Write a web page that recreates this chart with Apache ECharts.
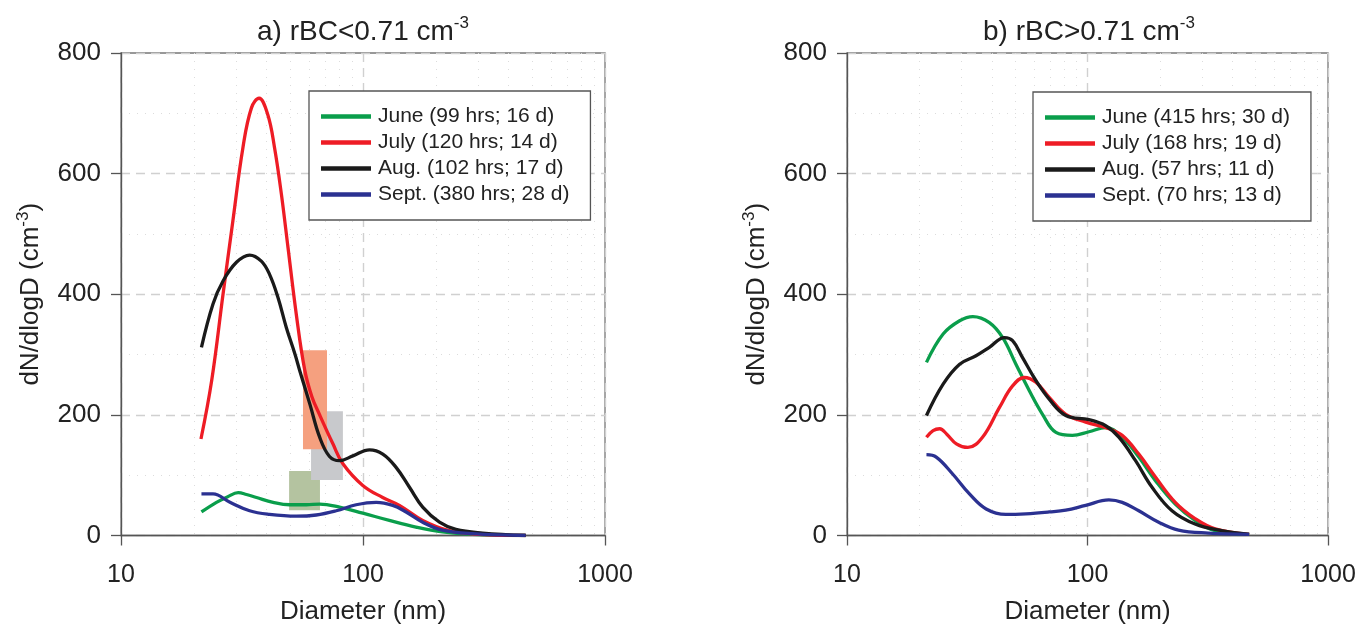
<!DOCTYPE html>
<html>
<head>
<meta charset="utf-8">
<script src="https://cdn.jsdelivr.net/npm/echarts@6/dist/echarts.min.js"></script>
<style>
  html, body { margin: 0; padding: 0; background: #fff; }
  #chart { width: 1357px; height: 624px; }
</style>
</head>
<body>
<div id="chart"></div>
<script>
// rBC size distributions: [diameter (nm), dN/dlogD (cm^-3)]
// a) rBC < 0.71 cm-3
const juneLow = [[21.5,39],[24.8,55],[27.5,64],[30.5,71],[33,68],[36.3,63],[42.5,55],[49.8,51],[58.3,51],[66.2,52],[80,47],[99.8,37],[128.5,25],[165.5,14],[213,6],[284,2],[470,0]];
const julyLow = [[21.4,160],[23.7,257],[26.4,400],[29,522],[31.9,643],[34.6,709],[37.2,725],[40.4,698],[43.1,643],[46,566],[49,477],[53,367],[57.4,275],[61.5,230],[66.2,200],[75.1,152],[82.6,119],[99.8,83],[120.6,63],[141.4,50],[176.5,25],[227,8],[302,2],[470,0]];
const augLow = [[21.5,312],[24,384],[26.4,422],[30,453],[34,465],[38,455],[41.1,433],[44.5,395],[48.2,345],[52.4,300],[54.9,272],[60.4,217],[66.2,163],[72.7,131],[80,124],[90.8,132],[106.4,142],[120.7,135],[137,113],[155.6,80],[176.5,47],[207,22],[242,10],[312,4],[470,0]];
const septLow = [[21.5,69],[24,69],[28.2,55],[34,41],[41.1,35],[53,32],[64.1,34],[77.5,41],[93.7,51],[113.4,55],[132.7,50],[150.7,39],[176.5,22],[213,9],[284,3],[470,0]];

// b) rBC > 0.71 cm-3
const juneHigh = [[21.4,287],[25.1,334],[29.4,356],[33.4,363],[39.1,353],[44.4,328],[50.4,284],[57.3,240],[65,201],[73.9,171],[86.5,166],[101.4,172],[119,179],[139.4,163],[163.4,130],[191.6,91],[231.7,52],[280,25],[339.5,8],[470,2]];
const julyHigh = [[21.4,163],[22.8,174],[24.3,177],[26,168],[28.5,152],[31.8,146],[36.6,163],[43,212],[48.8,248],[54.6,262],[61,254],[69.3,229],[81.2,201],[98.3,188],[122.7,177],[139.4,166],[163.4,135],[191.6,97],[231.7,55],[280,28],[339.5,11],[470,2]];
const augHigh = [[21.4,199],[25.1,251],[29.4,284],[34.4,298],[39.1,312],[45.1,328],[48.8,323],[53.7,295],[61,257],[69.3,226],[81.2,199],[101.4,192],[119,182],[135,163],[158.4,124],[185.5,80],[224.5,41],[280,19],[361,8],[470,2]];
const septHigh = [[21.4,134],[23.5,130],[27.5,102],[32.3,69],[37.9,44],[45.8,35],[55.4,36],[69.3,39],[81.2,42],[98.3,50],[122.7,59],[139.4,55],[163.4,41],[197.7,22],[239,9],[318,4],[470,2]];

// Shaded ranges in panel a: [dMin, dMax, nMin, nMax]
const boxOlive = [49.5, 66.4, 42, 107];
const boxGray = [61, 82.6, 92, 206];
const boxSalmon = [56.5, 71, 143, 307];

const namesLow = ['June (99 hrs; 16 d)', 'July (120 hrs; 14 d)', 'Aug. (102 hrs; 17 d)', 'Sept. (380 hrs; 28 d)'];
const namesHigh = ['June (415 hrs; 30 d)', 'July (168 hrs; 19 d)', 'Aug. (57 hrs; 11 d)', 'Sept. (70 hrs; 13 d)'];
const titles = ['a) rBC<0.71 cm', 'b) rBC>0.71 cm'];
const xName = 'Diameter (nm)';
const yName = 'dN/dlogD (cm';

const colors = ['#0a9e4b', '#ee1c25', '#1a1a1a', '#2b3191'];
const FONT = "'Liberation Sans', Arial, sans-serif";
const TXT = '#222';

const chart = echarts.init(document.getElementById('chart'));

function curve(name, data, color, idx) {
  return {
    name, type: 'line', xAxisIndex: idx, yAxisIndex: idx, data,
    smooth: 0.4, symbol: 'none', z: 5,
    lineStyle: { color, width: 3.3 }, itemStyle: { color }
  };
}

function box(b, color) {
  return [{ xAxis: b[0], yAxis: b[3], itemStyle: { color, opacity: 1 } }, { xAxis: b[1], yAxis: b[2] }];
}

const grids = [
  { left: 121, right: 752, top: 53, bottom: 88.5 },
  { left: 847, right: 29, top: 53, bottom: 88.5 }
];

const xAxes = grids.map((g, i) => ({
  type: 'log', logBase: 10, min: 10, max: 1000, gridIndex: i,
  name: xName, nameLocation: 'middle', nameGap: 63,
  nameTextStyle: { fontSize: 26, color: TXT, fontFamily: FONT },
  axisLine: { show: true, lineStyle: { color: '#555', width: 1.3 } },
  axisTick: { show: true, length: 10, lineStyle: { color: '#555', width: 1.3 } },
  axisLabel: { fontSize: 25, color: TXT, fontFamily: FONT, margin: 27, formatter: v => String(Math.round(v)) },
  splitLine: { show: true, lineStyle: { color: '#d0d0d0', type: [9, 6], width: 1.4 } },
  minorTick: { show: false, splitNumber: 9 },
  minorSplitLine: { show: true, lineStyle: { color: '#dcdcdc', type: [1, 7], width: 1 } }
}));

const yAxes = grids.map((g, i) => ({
  type: 'value', min: 0, max: 800, interval: 200, gridIndex: i,
  name: '{m|' + yName + '}{s|-3}{m|)}', nameLocation: 'middle', nameGap: 74, nameRotate: 90,
  nameTextStyle: {
    color: TXT, fontFamily: FONT,
    rich: {
      m: { fontSize: 26, color: TXT, fontFamily: FONT, lineHeight: 32 },
      s: { fontSize: 17, color: TXT, fontFamily: FONT, verticalAlign: 'top', lineHeight: 20 }
    }
  },
  axisLine: { show: true, lineStyle: { color: '#555', width: 1.3 } },
  axisTick: { show: true, length: 10, lineStyle: { color: '#555', width: 1.3 } },
  axisLabel: { fontSize: 26, color: TXT, fontFamily: FONT, margin: 20 },
  splitLine: { show: true, lineStyle: { color: '#d0d0d0', type: [9, 6], width: 1.4 } },
  minorTick: { show: false, splitNumber: 2 },
  minorSplitLine: { show: true, lineStyle: { color: '#dcdcdc', type: [1, 7], width: 1 } }
}));

const legendBase = {
  orient: 'vertical', itemWidth: 50, itemHeight: 4.5, itemGap: 5, icon: 'rect',
  padding: [15, 21, 15, 12], borderColor: '#555', borderWidth: 1.3, backgroundColor: '#fff',
  textStyle: { fontSize: 21, color: TXT, fontFamily: FONT, padding: [0, 0, 0, 2] },
  z: 10
};

const option = {
  animation: false,
  backgroundColor: '#fff',
  title: titles.map((t, i) => ({
    text: '{m|' + t + '}{s|-3}', left: i === 0 ? 358 : 1084, top: 10, textAlign: 'center',
    textStyle: {
      fontWeight: 'normal',
      rich: {
        m: { fontSize: 28, fontWeight: 'normal', color: TXT, fontFamily: FONT, lineHeight: 35 },
        s: { fontSize: 17, fontWeight: 'normal', color: TXT, fontFamily: FONT, verticalAlign: 'top', lineHeight: 20 }
      }
    }
  })),
  grid: grids.map(g => Object.assign({
    show: true, borderColor: '#777', borderWidth: 1.3, backgroundColor: 'transparent',
    containLabel: false, outerBoundsMode: 'none'
  }, g)),
  xAxis: xAxes,
  yAxis: yAxes,
  legend: [
    Object.assign({ data: namesLow, left: 309, top: 91 }, legendBase),
    Object.assign({ data: namesHigh, left: 1033, top: 92 }, legendBase)
  ],
  series: [
    {
      type: 'line', xAxisIndex: 0, yAxisIndex: 0, data: [], z: 1, silent: true,
      markArea: { silent: true, data: [box(boxOlive, '#b4c3a0'), box(boxGray, '#c8c9cc'), box(boxSalmon, '#f5a07f')] }
    },
    curve(namesLow[0], juneLow, colors[0], 0),
    curve(namesLow[1], julyLow, colors[1], 0),
    curve(namesLow[2], augLow, colors[2], 0),
    curve(namesLow[3], septLow, colors[3], 0),
    curve(namesHigh[0], juneHigh, colors[0], 1),
    curve(namesHigh[1], julyHigh, colors[1], 1),
    curve(namesHigh[2], augHigh, colors[2], 1),
    curve(namesHigh[3], septHigh, colors[3], 1)
  ]
};

chart.setOption(option);
</script>
</body>
</html>
